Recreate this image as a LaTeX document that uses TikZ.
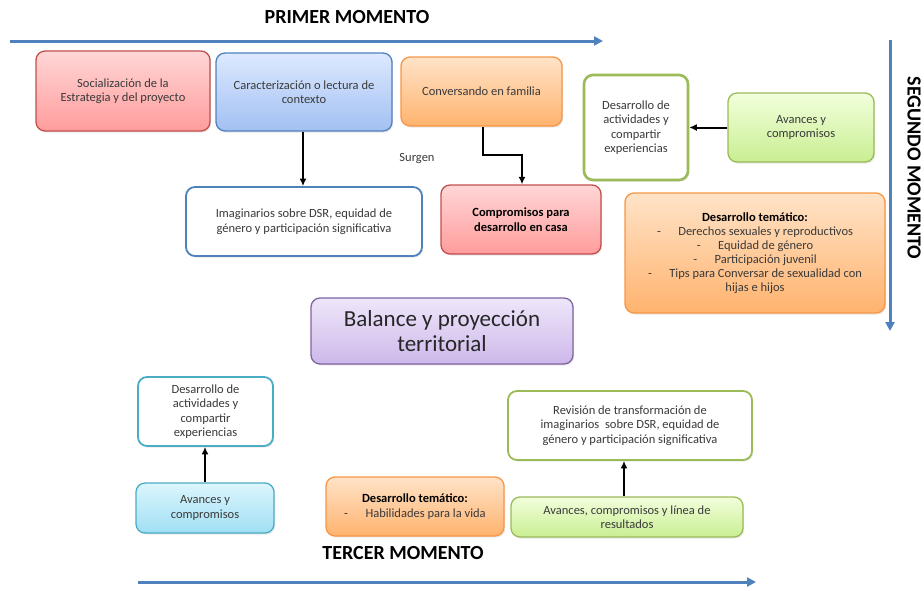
\documentclass[tikz,border=0pt]{standalone}
\usepackage{fontspec}
\setmainfont{Carlito}
\usetikzlibrary{arrows.meta,shadows}
\definecolor{txt}{HTML}{3A3A3A}
\definecolor{flow}{HTML}{4F81BD}
\definecolor{redB}{HTML}{C0504D}\definecolor{redT}{HTML}{FFD6D6}\definecolor{redBo}{HTML}{FF9C9C}
\definecolor{bluB}{HTML}{4F81BD}\definecolor{bluT}{HTML}{DDE9FF}\definecolor{bluBo}{HTML}{A2C0F2}
\definecolor{oraB}{HTML}{F79646}\definecolor{oraT}{HTML}{FFE3C8}\definecolor{oraBo}{HTML}{FFB36E}
\definecolor{grnB}{HTML}{9BBB59}\definecolor{grnT}{HTML}{F2FFDC}\definecolor{grnBo}{HTML}{C9EE92}
\definecolor{purB}{HTML}{8064A2}\definecolor{purT}{HTML}{EFE6FA}\definecolor{purBo}{HTML}{CDB8EA}
\definecolor{cyaB}{HTML}{4BACC6}\definecolor{cyaT}{HTML}{DCF5FD}\definecolor{cyaBo}{HTML}{A0E0F4}
\tikzset{
  box/.style={rounded corners=9pt, line width=1.3pt, align=center, text=txt,
    font=\fontsize{12.5}{14.5}\selectfont, inner sep=2pt,
    drop shadow={opacity=0.18, shadow xshift=1.2pt, shadow yshift=-1.5pt}},
  redbox/.style={box, draw=redB, top color=redT, bottom color=redBo},
  blubox/.style={box, draw=bluB, top color=bluT, bottom color=bluBo},
  orabox/.style={box, draw=oraB, top color=oraT, bottom color=oraBo},
  grnbox/.style={box, draw=grnB, top color=grnT, bottom color=grnBo},
  purbox/.style={box, draw=purB, top color=purT, bottom color=purBo},
  cyabox/.style={box, draw=cyaB, top color=cyaT, bottom color=cyaBo},
  whitebox/.style={box, fill=white},
  conn/.style={line width=2pt, draw=black, -{Latex[length=7.5pt,width=7pt]}},
  bigarrow/.style={line width=3pt, draw=flow, -{Triangle[length=9pt,width=9pt]}},
  title/.style={font=\fontsize{20}{22}\selectfont\bfseries, text=black}
}
\newcommand{\dsh}{-\hspace{1.4em}}
\begin{document}
\begin{tikzpicture}[x=1pt,y=-1pt]
\useasboundingbox (0,0) rectangle (924,590);
% titles and flow arrows
\node[title] (t1) at (347,17) {PRIMER MOMENTO};
\coordinate (a1s) at (10,41); \coordinate (a1e) at (603,41);
\draw[bigarrow] (a1s) -- (a1e);
\coordinate (a2s) at (890,40); \coordinate (a2e) at (890,331);
\draw[bigarrow] (a2s) -- (a2e);
\node[title, rotate=-90] (t2) at (914,168) {SEGUNDO MOMENTO};
\node[title] (t3) at (403,553) {TERCER MOMENTO};
\coordinate (a3s) at (138,582); \coordinate (a3e) at (756,582);
\draw[bigarrow] (a3s) -- (a3e);

% first row
\node[redbox, minimum width=174pt, minimum height=80pt] (soc) at (123,91) {Socialización de la\\Estrategia y del proyecto};
\node[blubox, minimum width=176pt, minimum height=78pt] (car) at (304,92) {Caracterización o lectura de\\contexto};
\node[orabox, minimum width=161pt, minimum height=69pt] (con) at (481.5,91.5) {Conversando en familia};
\node[whitebox, draw=grnB, line width=2.6pt, minimum width=104pt, minimum height=105pt] (des1) at (636,127.5) {Desarrollo de\\actividades y\\compartir\\experiencias};
\node[grnbox, minimum width=146pt, minimum height=69pt] (ava1) at (801,127.5) {Avances y\\compromisos};

\node[whitebox, draw=bluB, line width=1.8pt, minimum width=236pt, minimum height=69pt] (ima) at (304,221.5) {Imaginarios sobre DSR, equidad de\\género y participación significativa};
\node[redbox, minimum width=160pt, minimum height=69pt, font=\fontsize{12.5}{14.5}\selectfont\bfseries, text=black] (com) at (521,219.5) {Compromisos para\\desarrollo en casa};
\node[text=txt, font=\fontsize{12.5}{14}\selectfont] (sur) at (417,159) {Surgen};

\node[orabox, minimum width=260pt, minimum height=120pt, font=\fontsize{12.5}{14}\selectfont] (tem1) at (755,253) {{\bfseries\color{black}Desarrollo temático:}\\\dsh Derechos sexuales y reproductivos\\\dsh Equidad de género\\\dsh Participación juvenil\\\dsh Tips para Conversar de sexualidad con\\hijas e hijos};

\node[purbox, minimum width=262pt, minimum height=66pt, font=\fontsize{23}{25}\selectfont, text=black!85] (bal) at (442,331) {Balance y proyección\\territorial};

% third moment
\node[whitebox, draw=cyaB, line width=1.8pt, minimum width=135pt, minimum height=69pt] (des3) at (205.5,411.5) {Desarrollo de\\actividades y\\compartir\\experiencias};
\node[cyabox, minimum width=138pt, minimum height=50pt] (ava3) at (205,508) {Avances y\\compromisos};
\node[orabox, minimum width=178pt, minimum height=59pt] (tem3) at (415,506.5) {{\bfseries\color{black}Desarrollo temático:}\\\dsh Habilidades para la vida};
\node[whitebox, draw=grnB, line width=1.8pt, minimum width=244pt, minimum height=69pt] (rev) at (630,425.5) {Revisión de transformación de\\imaginarios\ \ sobre DSR, equidad de\\género y participación significativa};
\node[grnbox, minimum width=232pt, minimum height=40pt] (ava4) at (627,517) {Avances, compromisos y línea de\\resultados};

% connectors
\draw[conn] (car.south -| 303,0) -- (ima.north -| 303,0);
\coordinate (k1) at (483,155); \coordinate (k2) at (522,155);
\draw[conn] (con.south -| k1) -- (k1) -- (k2) -- (com.north -| k2);
\draw[conn] (ava1.west) -- (des1.east);
\draw[conn] (ava3.north -| 205,0) -- (des3.south -| 205,0);
\draw[conn] (ava4.north -| 624,0) -- (rev.south -| 624,0);
\end{tikzpicture}
\end{document}
